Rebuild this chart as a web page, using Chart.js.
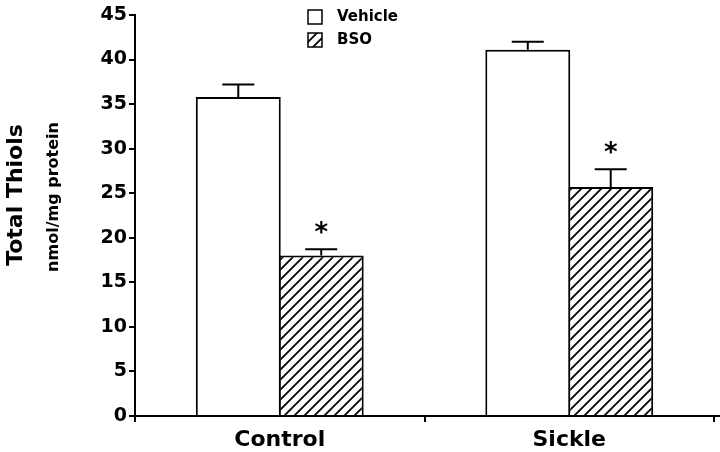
<!DOCTYPE html>
<html>
<head>
<meta charset="utf-8">
<script src="https://cdn.jsdelivr.net/npm/chart.js@4.4.1/dist/chart.umd.min.js"></script>
<style>
  html, body { margin: 0; padding: 0; background: #fff; }
  canvas { display: block; }
</style>
</head>
<body>
<canvas id="c" width="720" height="452"></canvas>
<script>
// ---- data ----
const categories = ['Control', 'Sickle'];
const seriesNames = ['Vehicle', 'BSO'];
const vehicleValues = [35.8, 41.1];
const vehicleErrors = [1.4, 0.9];
const bsoValues = [18.0, 25.7];
const bsoErrors = [0.7, 2.0];
const bsoSignificant = [true, true];
const yMin = 0, yMax = 45, yStep = 5;
const yTitle = 'Total Thiols';
const ySubtitle = 'nmol/mg protein';

const FONT = '"DejaVu Sans", Arial, sans-serif';

function makeHatch() {
  const s = 10;
  const pc = document.createElement('canvas');
  pc.width = s; pc.height = s;
  const p = pc.getContext('2d');
  p.fillStyle = '#fff';
  p.fillRect(0, 0, s, s);
  p.strokeStyle = '#000';
  p.lineWidth = 1.8;
  p.beginPath();
  p.moveTo(-1, s + 1); p.lineTo(s + 1, -1);
  p.moveTo(-1, 1); p.lineTo(1, -1);
  p.moveTo(s - 1, s + 1); p.lineTo(s + 1, s - 1);
  p.stroke();
  return pc;
}
const ctx = document.getElementById('c').getContext('2d');
const hatch = ctx.createPattern(makeHatch(), 'repeat');

const errorsByDataset = [vehicleErrors, bsoErrors];
const starsByDataset = [null, bsoSignificant];

const extrasPlugin = {
  id: 'extras',
  afterDatasetsDraw(chart) {
    const c = chart.ctx;
    const yScale = chart.scales.y;
    chart.data.datasets.forEach((ds, di) => {
      const meta = chart.getDatasetMeta(di);
      const errs = errorsByDataset[di];
      const stars = starsByDataset[di];
      meta.data.forEach((bar, i) => {
        const v = ds.data[i];
        const yTop = yScale.getPixelForValue(v + errs[i]);
        c.save();
        c.strokeStyle = '#000';
        c.lineWidth = 2;
        c.beginPath();
        c.moveTo(bar.x, bar.y);
        c.lineTo(bar.x, yTop);
        c.moveTo(bar.x - 16, yTop);
        c.lineTo(bar.x + 16, yTop);
        c.stroke();
        if (stars && stars[i]) {
          c.fillStyle = '#000';
          c.font = 'bold 26px ' + FONT;
          c.textAlign = 'center';
          c.textBaseline = 'alphabetic';
          const m = c.measureText('*');
          const center = yTop - 22;
          const base = center - (m.actualBoundingBoxDescent - m.actualBoundingBoxAscent) / 2;
          c.fillText('*', bar.x, base);
        }
        c.restore();
      });
    });
  },
  afterDraw(chart) {
    const c = chart.ctx;
    const area = chart.chartArea;
    c.save();
    // axis line extension to the right
    c.strokeStyle = '#000';
    c.lineWidth = 2;
    c.beginPath();
    c.moveTo(area.right, area.bottom);
    c.lineTo(720, area.bottom);
    c.stroke();
    // y titles
    c.fillStyle = '#000';
    c.textAlign = 'center';
    c.textBaseline = 'middle';
    c.save();
    c.translate(16, 195);
    c.rotate(-Math.PI / 2);
    c.font = 'bold 22px ' + FONT;
    c.fillText(yTitle, 0, 0);
    c.restore();
    c.save();
    c.translate(54, 197);
    c.rotate(-Math.PI / 2);
    c.font = 'bold 16px ' + FONT;
    c.fillText(ySubtitle, 0, 0);
    c.restore();
    // legend
    const lx = 308, boxW = 14, boxH = 14;
    const rows = [17, 40];
    chart.data.datasets.forEach((ds, di) => {
      const cy = rows[di];
      c.fillStyle = ds.backgroundColor;
      c.fillRect(lx, cy - boxH / 2, boxW, boxH);
      c.strokeStyle = '#000';
      c.lineWidth = 1.5;
      c.strokeRect(lx, cy - boxH / 2, boxW, boxH);
      c.fillStyle = '#000';
      c.font = 'bold 15px ' + FONT;
      c.textAlign = 'left';
      c.textBaseline = 'middle';
      c.fillText(ds.label, 337, cy);
    });
    c.restore();
  }
};

new Chart(ctx, {
  type: 'bar',
  data: {
    labels: categories,
    datasets: [
      {
        label: seriesNames[0],
        data: vehicleValues,
        backgroundColor: '#ffffff',
        borderColor: '#000',
        borderWidth: 2,
        borderSkipped: 'bottom',
        categoryPercentage: 0.573,
        barPercentage: 1.024
      },
      {
        label: seriesNames[1],
        data: bsoValues,
        backgroundColor: hatch,
        borderColor: '#000',
        borderWidth: 2,
        borderSkipped: 'bottom',
        categoryPercentage: 0.573,
        barPercentage: 1.024
      }
    ]
  },
  options: {
    responsive: false,
    animation: false,
    devicePixelRatio: 1,
    layout: { padding: { top: 15, right: 6, left: 0, bottom: 0 } },
    plugins: {
      legend: { display: false },
      tooltip: { enabled: false },
      title: { display: false }
    },
    scales: {
      x: {
        grid: { display: true, drawOnChartArea: false, drawTicks: true, tickLength: 6, color: '#000', lineWidth: 2, offset: true },
        border: { display: true, color: '#000', width: 2 },
        ticks: { color: '#000', font: { family: FONT, size: 22, weight: 'bold' }, padding: 5, maxRotation: 0 },
        afterFit(scale) { scale.height = 36; }
      },
      y: {
        min: yMin,
        max: yMax,
        grid: { display: true, drawOnChartArea: false, drawTicks: true, tickLength: 6, color: '#000', lineWidth: 2 },
        border: { display: true, color: '#000', width: 2 },
        ticks: { stepSize: yStep, color: '#000', font: { family: FONT, size: 19, weight: 'bold' }, padding: 2 },
        afterFit(scale) { scale.width = 135; }
      }
    }
  },
  plugins: [extrasPlugin]
});
</script>
</body>
</html>
